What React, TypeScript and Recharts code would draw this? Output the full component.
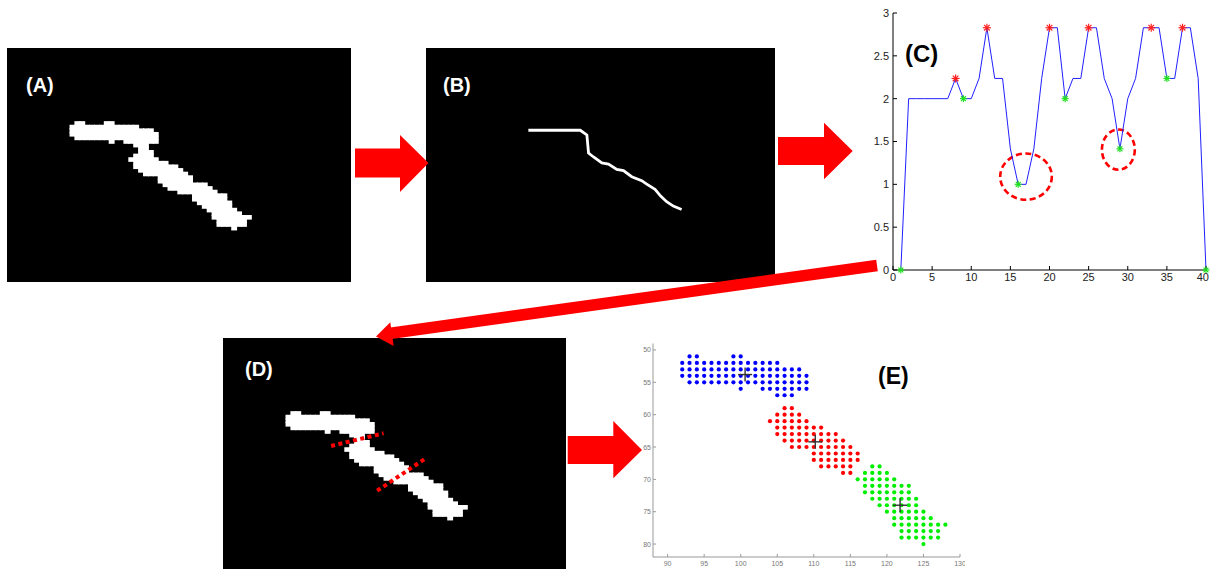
import {
  ComposedChart,
  Line,
  LineChart,
  ReferenceArea,
  Scatter,
  ScatterChart,
  XAxis,
  YAxis
} from 'recharts'

// segmented blob, pixel runs per row: [row, firstCol, lastCol]
const blueRuns = [
  [51, 93, 94], [51, 99, 100], [52, 92, 105], [53, 92, 108], [54, 92, 109],
  [55, 93, 109], [56, 100, 100], [56, 103, 109], [57, 105, 107]
]
const redRuns = [
  [59, 106, 107], [60, 105, 108], [61, 104, 109], [62, 105, 111], [63, 105, 113],
  [64, 106, 114], [65, 107, 115], [66, 110, 116], [67, 110, 116], [68, 111, 115],
  [69, 114, 115]
]
const greenRuns = [
  [68, 118, 119], [69, 117, 120], [70, 116, 121], [71, 117, 123], [72, 117, 123],
  [73, 118, 124], [74, 119, 124], [75, 120, 125], [76, 121, 126], [77, 121, 128],
  [78, 122, 127], [79, 122, 127], [80, 125, 125]
]
// pixels of the binary image that fall on the cuts (not in any cluster)
const cutRuns = [
  [58, 106, 107], [59, 108, 108], [68, 116, 117], [69, 112, 113], [69, 116, 116], [70, 114, 115]
]
const centroids = [
  { x: 100.6, y: 53.8 },
  { x: 110.2, y: 64.2 },
  { x: 121.8, y: 74.0 }
]

// skeleton of panel B (image units)
const skeletonX = [30.8, 46.4, 48.4, 48.9, 50.4, 52.9, 54.9, 57.4, 59.4, 61.9, 64.9, 66.4, 68.9, 70.6, 72.4, 74.4, 76.9]
const skeletonY = [24.6, 24.6, 26.0, 31.4, 32.6, 34.4, 34.7, 36.3, 36.7, 38.5, 39.7, 40.7, 42.3, 44.3, 46.0, 47.3, 48.3]

// cut lines drawn on panel D (blob units)
const cutLines = [
  [{ x: 100.7, y: 60.0 }, { x: 111.4, y: 56.5 }],
  [{ x: 110.1, y: 72.4 }, { x: 119.7, y: 63.7 }]
]

// width profile along the skeleton (panel C)
const profileValues = [
  0, 2, 2, 2, 2, 2, 2, 2.236, 2, 2,
  2.236, 2.828, 2.236, 2.236, 1.414, 1, 1, 1.414, 2.236, 2.828,
  2.828, 2, 2.236, 2.236, 2.828, 2.828, 2.236, 2, 1.414, 2,
  2.236, 2.828, 2.828, 2.828, 2.236, 2.236, 2.828, 2.828, 2.236, 0
]
const peakIdx = [8, 12, 20, 25, 33, 37]
const valleyIdx = [1, 9, 16, 22, 29, 35, 40]
const circled = [
  { x1: 13.7, x2: 20.3, y1: 0.82, y2: 1.36 },
  { x1: 26.7, x2: 30.9, y1: 1.17, y2: 1.64 }
]

const cTicksX = [0, 5, 10, 15, 20, 25, 30, 35, 40]
const cTicksY = [0, 0.5, 1, 1.5, 2, 2.5, 3]
const eTicksX = [90, 95, 100, 105, 110, 115, 120, 125, 130]
const eTicksY = [50, 55, 60, 65, 70, 75, 80]

const expandRuns = (runs: number[][]) =>
  runs.flatMap(([row, from, to]) => {
    const pts: { x: number; y: number }[] = []
    for (let c = from; c <= to; c++) pts.push({ x: c, y: row })
    return pts
  })

const bluePts = expandRuns(blueRuns)
const redPts = expandRuns(redRuns)
const greenPts = expandRuns(greenRuns)
const blobPixels = [...bluePts, ...redPts, ...greenPts, ...expandRuns(cutRuns)]
const skeleton = skeletonX.map((x, i) => ({ x, y: skeletonY[i] }))
const profile = profileValues.map((y, i) => ({ x: i + 1, y }))
const peaks = peakIdx.map(i => ({ x: i, y: profileValues[i - 1] }))
const valleys = valleyIdx.map(i => ({ x: i, y: profileValues[i - 1] }))

const FONT = '"Liberation Sans", Arial, sans-serif'
const BLOB_X0 = 78.64
const BLOB_Y0 = 30.1
const PX_W = 4.9
const PX_H = 3.61

const pixelShape = (p: any) => (
  <rect x={p.cx - PX_W / 2 - 0.5} y={p.cy - PX_H / 2 - 0.5} width={PX_W + 1} height={PX_H + 1} fill="#fff" />
)

const noShape = () => <g />

const star = (color: string, s: number) => (p: any) => (
  <g stroke={color} strokeWidth={1.2}>
    <line x1={p.cx - s} y1={p.cy} x2={p.cx + s} y2={p.cy} />
    <line x1={p.cx} y1={p.cy - s} x2={p.cx} y2={p.cy + s} />
    <line x1={p.cx - s * 0.7} y1={p.cy - s * 0.7} x2={p.cx + s * 0.7} y2={p.cy + s * 0.7} />
    <line x1={p.cx - s * 0.7} y1={p.cy + s * 0.7} x2={p.cx + s * 0.7} y2={p.cy - s * 0.7} />
  </g>
)

const ellipseShape = (p: any) => {
  const w = Math.abs(p.width)
  const h = Math.abs(p.height)
  return (
    <ellipse cx={p.x + p.width / 2} cy={p.y + p.height / 2} rx={w / 2} ry={h / 2}
      fill="none" stroke="#ff0000" strokeWidth={2.6} strokeDasharray="6 3.5" />
  )
}

const dotShape = (color: string) => (p: any) => <circle cx={p.cx} cy={p.cy} r={2.1} fill={color} />

const crossShape = (p: any) => (
  <g stroke="#333" strokeWidth={1.4}>
    <line x1={p.cx - 7} y1={p.cy} x2={p.cx + 7} y2={p.cy} />
    <line x1={p.cx} y1={p.cy - 7} x2={p.cx} y2={p.cy + 7} />
  </g>
)

// last x label of panel C sits flush against the right edge
const cTick = (p: any) => {
  const last = p.payload.value === 40
  return (
    <text x={p.x + (last ? 3 : 0)} y={p.y} dy="0.71em" textAnchor={last ? 'end' : 'middle'} fontSize={11} fill="#222">
      {p.payload.value}
    </text>
  )
}

function BlobPanel({ width, height, cuts }: { width: number; height: number; cuts: typeof cutLines }) {
  return (
    <div style={{ width, height, background: '#000' }}>
      <ScatterChart width={width} height={height} margin={{ top: 0, right: 0, bottom: 0, left: 0 }}>
        <XAxis type="number" dataKey="x" domain={[BLOB_X0, BLOB_X0 + width / PX_W]} hide allowDataOverflow />
        <YAxis type="number" dataKey="y" domain={[BLOB_Y0, BLOB_Y0 + height / PX_H]} reversed hide allowDataOverflow />
        <Scatter data={blobPixels} shape={pixelShape} isAnimationActive={false} />
        {cuts.map((seg, i) => (
          <Scatter key={i} data={seg} shape={noShape} isAnimationActive={false}
            line={{ stroke: '#ff0000', strokeWidth: 4, strokeDasharray: '4 3.5' }} />
        ))}
      </ScatterChart>
    </div>
  )
}

const panelLabel = (text: string, left: number, top: number, color: string, size: number) => (
  <div style={{ position: 'absolute', left, top, color, fontSize: size, fontWeight: 'bold', lineHeight: 1, fontFamily: FONT }}>
    {text}
  </div>
)

export default function App() {
  return (
    <div style={{ position: 'absolute', left: 0, top: 0, width: 1210, height: 569, overflow: 'hidden', background: '#fff', fontFamily: FONT }}>
      <div style={{ position: 'absolute', left: 7, top: 48 }}>
        <BlobPanel width={344} height={234} cuts={[]} />
      </div>

      <div style={{ position: 'absolute', left: 426, top: 48, width: 349, height: 234, background: '#000' }}>
        <LineChart width={349} height={234} data={skeleton} margin={{ top: 0, right: 0, bottom: 0, left: 0 }}>
          <XAxis type="number" dataKey="x" domain={[0, 105]} hide />
          <YAxis type="number" domain={[0, 70]} reversed hide />
          <Line type="linear" dataKey="y" stroke="#fff" strokeWidth={2.8} strokeLinejoin="miter" dot={false} isAnimationActive={false} />
        </LineChart>
      </div>

      <div style={{ position: 'absolute', left: 223, top: 338 }}>
        <BlobPanel width={343} height={231} cuts={cutLines} />
      </div>

      <div style={{ position: 'absolute', left: 855, top: 0 }}>
        <ComposedChart width={355} height={290} data={profile} margin={{ top: 13, right: 4, bottom: 0, left: 0 }}>
          <XAxis xAxisId="b" type="number" dataKey="x" domain={[0, 40]} ticks={cTicksX} interval={0} height={20}
            tickSize={-4} tickMargin={7} stroke="#000" tick={cTick} />
          <XAxis xAxisId="t" orientation="top" type="number" dataKey="x" domain={[0, 40]} ticks={cTicksX} height={0}
            tick={false} tickSize={-4} stroke="#000" />
          <YAxis yAxisId="l" type="number" dataKey="y" domain={[0, 3]} ticks={cTicksY} interval={0} width={38}
            tickSize={-4} tickMargin={8} stroke="#000" tick={{ fontSize: 11, fill: '#222' }} />
          <YAxis yAxisId="r" orientation="right" type="number" dataKey="y" domain={[0, 3]} ticks={cTicksY} width={0}
            tick={false} tickSize={-4} stroke="#000" />
          {circled.map((c, i) => (
            <ReferenceArea key={i} xAxisId="b" yAxisId="l" x1={c.x1} x2={c.x2} y1={c.y1} y2={c.y2} shape={ellipseShape} />
          ))}
          <Line xAxisId="b" yAxisId="l" type="linear" dataKey="y" stroke="#2020ff" strokeWidth={1} dot={false} isAnimationActive={false} />
          <Scatter xAxisId="b" yAxisId="l" data={peaks} shape={star('#ff2020', 4)} isAnimationActive={false} />
          <Scatter xAxisId="b" yAxisId="l" data={valleys} shape={star('#20e020', 3.5)} isAnimationActive={false} />
        </ComposedChart>
      </div>

      <div style={{ position: 'absolute', left: 615, top: 335 }}>
        <ScatterChart width={350} height={234} margin={{ top: 8.5, right: 5, bottom: 0, left: 0 }}>
          <XAxis xAxisId="b" type="number" dataKey="x" domain={[88, 130]} ticks={eTicksX} interval={0} height={12}
            tickSize={-3} tickMargin={7.5} stroke="#999" tick={{ fontSize: 7, fill: '#777' }} />
          <XAxis xAxisId="t" orientation="top" type="number" dataKey="x" domain={[88, 130]} ticks={eTicksX} height={0}
            tick={false} tickSize={-3} stroke="#999" />
          <YAxis yAxisId="l" type="number" dataKey="y" domain={[49, 82]} reversed ticks={eTicksY} interval={0} width={38}
            tickSize={-3} tickMargin={5} stroke="#999" tick={{ fontSize: 7, fill: '#777' }} />
          <YAxis yAxisId="r" orientation="right" type="number" dataKey="y" domain={[49, 82]} reversed ticks={eTicksY} width={0}
            tick={false} tickSize={-3} stroke="#999" />
          <Scatter xAxisId="b" yAxisId="l" data={bluePts} shape={dotShape('#0000ff')} isAnimationActive={false} />
          <Scatter xAxisId="b" yAxisId="l" data={redPts} shape={dotShape('#ff0000')} isAnimationActive={false} />
          <Scatter xAxisId="b" yAxisId="l" data={greenPts} shape={dotShape('#00ee00')} isAnimationActive={false} />
          <Scatter xAxisId="b" yAxisId="l" data={centroids} shape={crossShape} isAnimationActive={false} />
        </ScatterChart>
      </div>

      {panelLabel('(A)', 26, 75, '#fff', 20)}
      {panelLabel('(B)', 443, 75, '#fff', 20)}
      {panelLabel('(D)', 245, 359, '#fff', 20)}
      {panelLabel('(C)', 905, 42, '#000', 24)}
      {panelLabel('(E)', 878, 365, '#000', 23)}

      <svg width={1210} height={569} style={{ position: 'absolute', left: 0, top: 0, pointerEvents: 'none' }}>
        <polygon points="355,148.5 400,148.5 400,135 428.5,163 400,192 400,177.5 355,177.5" fill="#ff0000" />
        <polygon points="778,137 824,137 824,122.7 852.7,151 824,179.3 824,165 778,165" fill="#ff0000" />
        <polygon points="567.7,436 613.3,436 613.3,421 642,450 613.3,478.3 613.3,464 567.7,464" fill="#ff0000" />
        <line x1={877} y1={265.5} x2={391} y2={333.2} stroke="#ff0000" strokeWidth={11.5} />
        <polygon points="376,336.5 393.7,346 390.3,322.3" fill="#ff0000" />
      </svg>
    </div>
  )
}
